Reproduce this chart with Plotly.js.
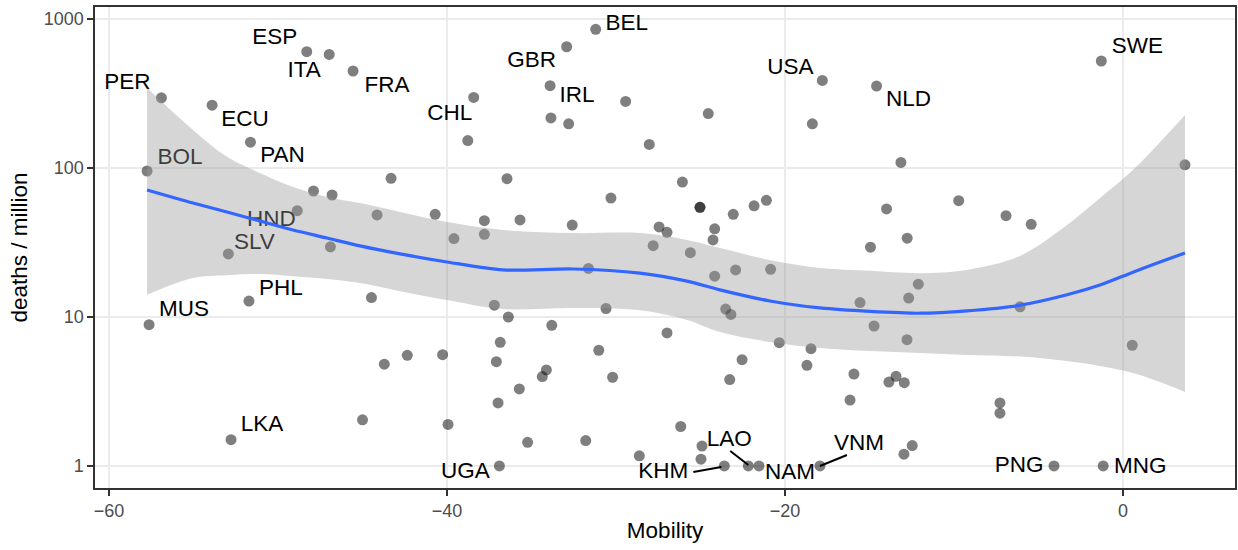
<!DOCTYPE html>
<html>
<head>
<meta charset="utf-8">
<script src="https://cdn.plot.ly/plotly-3.0.1.min.js"></script>
<style>
  html, body { margin: 0; padding: 0; background: #ffffff; }
  #chart { width: 1238px; height: 550px; }
</style>
</head>
<body>
<div id="chart"></div>
<script>
// Countries shown with their ISO code
const codes = ['PER','ESP','ITA','FRA','ECU','PAN','BOL','HND','SLV','PHL','MUS','LKA','UGA',
               'GBR','IRL','CHL','BEL','USA','NLD','SWE','PNG','MNG','KHM','LAO','NAM','VNM'];
const codeMobility = [-56.9,-48.3,-46.97,-45.56,-53.9,-51.63,-57.75,-48.86,-52.94,-51.72,-57.63,-52.78,-36.9,
                      -32.92,-33.9,-38.42,-31.2,-17.79,-14.58,-1.28,-4.08,-1.17,-23.59,-22.17,-21.54,-17.93];
const codeDeaths = [296,604,579,448,264,149,95.5,51.7,26.5,12.8,8.88,1.50,1.0,
                    652,357,298,853,387,355,523,1.0,1.0,1.0,1.0,1.0,1.0];

// Remaining countries
const otherMobility = [-46.9,-47.9,-46.8,-45.0,-29.43,-38.77,-33.85,-32.8,-43.31,-36.45,-30.3,-44.14,-40.7,
  -37.79,-35.68,-32.59,-39.59,-37.79,-24.54,-28.03,-18.38,-13.14,-26.07,-25.03,-25.03,-23.06,-21.83,-21.1,
  -27.45,-26.98,-24.16,-24.26,-27.8,-13.99,-12.77,-14.94,3.67,-9.72,-6.92,-5.43,-44.47,-37.2,-36.37,-33.8,
  -31.63,-30.59,-36.85,-37.08,-31.02,-30.2,-40.26,-42.35,-43.71,-34.12,-34.36,-35.72,-36.98,-39.94,-35.23,
  -31.79,-28.62,-25.6,-24.16,-22.92,-20.85,-23.51,-23.2,-26.98,-20.34,-18.46,-18.7,-22.54,-23.27,-15.56,
  -14.73,-12.78,-12.68,-12.11,-15.92,-13.43,-13.85,-12.94,-16.15,-26.17,-24.91,-24.97,-12.96,-12.47,-6.09,
  0.55,-7.28,-7.28];
const otherDeaths = [29.6,70.1,65.9,2.04,280,153,217,198,85.3,84.8,62.9,48.4,48.9,
  44.3,44.8,41.4,33.6,35.9,232,144,198,109,80.5,54.5,54.5,48.9,55.8,60.7,
  40.2,37.0,39.1,32.9,30.1,53.1,33.8,29.4,105,60.4,47.9,41.9,13.5,12.0,10.0,8.79,
  21.2,11.4,6.76,5.01,5.98,3.94,5.58,5.53,4.82,4.41,3.98,3.29,2.65,1.90,1.44,
  1.48,1.17,27.0,18.8,20.7,20.9,11.3,10.4,7.81,6.72,6.13,4.74,5.17,3.80,12.5,
  8.70,7.04,13.4,16.6,4.14,4.00,3.66,3.62,2.77,1.84,1.36,1.11,1.20,1.37,11.7,
  6.46,2.65,2.26];

// Loess fit with its 95% band
const fitMobility = [-57.75,-55.03,-53.02,-51.07,-49.11,-47.10,-45.15,-42.78,-40.0,-36.69,-32.54,-28.58,
  -25.80,-23.85,-20.89,-17.93,-14.97,-12.01,-9.23,-6.09,-3.31,-1.36,0.59,2.19,3.67];
const fitDeaths = [71.2,58.2,50.7,44.1,38.4,33.9,30.0,26.5,23.4,20.7,21.0,19.7,
  17.4,15.2,12.8,11.5,10.9,10.6,11.0,12.0,14.1,16.4,20.0,23.4,26.9];
const fitUpper = [344,180,119,92.5,74.5,63.9,58.2,50.7,43.4,38.4,36.6,36.6,
  32.9,29.0,24.1,21.3,20.4,19.7,20.7,25.7,41.4,62.9,97.0,149,227];
const fitLower = [14.1,18.3,19.1,19.4,18.8,18.0,16.9,14.9,13.0,11.3,11.5,11.1,
  9.55,7.93,6.80,6.19,5.91,5.73,5.56,5.43,5.07,4.69,4.21,3.66,3.14];

// Label placement: pixel shift of each label centre from its point
const labelShift = {
  PER:[-34,-14], ESP:[-32,-13], ITA:[-25,17], FRA:[34,15], ECU:[33,15], PAN:[32,14],
  BOL:[33,-13], HND:[-26,10], SLV:[26,-11], PHL:[32,-12], MUS:[35,-14], LKA:[31,-14],
  UGA:[-34,6], GBR:[-35,15], IRL:[27,11], CHL:[-24,17], BEL:[31,-5], USA:[-32,-12],
  NLD:[32,14], SWE:[36,-14], PNG:[-35,0], MNG:[37,1], KHM:[-61,6], LAO:[-19,-26],
  NAM:[31,7], VNM:[39,-22]
};
// Connector segments (pixel shifts from the point) for crowded labels
const leaders = {
  KHM:[[-31,6],[-3,1]],
  LAO:[[-18,-15],[0,-1]],
  VNM:[[27,-11],[0,0]]
};

const W = 1238, H = 550;
const margin = {l: 95, r: 3, t: 7, b: 62};
const xRange = [-60.83, 6.63];
const yRange = [-0.148, 3.081];
const plotW = W - margin.l - margin.r;
const plotH = H - margin.t - margin.b;
const pxPerX = plotW / (xRange[1] - xRange[0]);
const pxPerDecade = plotH / (yRange[1] - yRange[0]);

function shifted(x, y, dx, dy) {
  return [x + dx / pxPerX, Math.pow(10, Math.log10(y) - dy / pxPerDecade)];
}

const labX = [], labY = [];
codes.forEach((c, i) => {
  const p = shifted(codeMobility[i], codeDeaths[i], labelShift[c][0], labelShift[c][1]);
  labX.push(p[0]); labY.push(p[1]);
});

const segX = [], segY = [];
Object.keys(leaders).forEach(c => {
  const i = codes.indexOf(c);
  leaders[c].forEach(s => {
    const p = shifted(codeMobility[i], codeDeaths[i], s[0], s[1]);
    segX.push(p[0]); segY.push(p[1]);
  });
  segX.push(null); segY.push(null);
});

const font = '"Liberation Sans", Arial, Helvetica, sans-serif';

const traces = [
  {
    x: codeMobility.concat(otherMobility),
    y: codeDeaths.concat(otherDeaths),
    type: 'scatter', mode: 'markers',
    marker: {color: 'rgba(0,0,0,0.5)', size: 11, line: {width: 0}},
    hoverinfo: 'skip'
  },
  {
    x: labX, y: labY, text: codes,
    type: 'scatter', mode: 'text',
    textposition: 'middle center',
    textfont: {family: font, size: 22.5, color: '#000000'},
    hoverinfo: 'skip'
  },
  {
    x: segX, y: segY,
    type: 'scatter', mode: 'lines',
    line: {color: '#000000', width: 2},
    hoverinfo: 'skip'
  },
  // confidence band: lower edge, then upper edge filled down to it
  {
    x: fitMobility, y: fitLower,
    type: 'scatter', mode: 'lines',
    line: {width: 0, color: 'rgba(0,0,0,0)', shape: 'spline', smoothing: 1},
    hoverinfo: 'skip'
  },
  {
    x: fitMobility, y: fitUpper,
    type: 'scatter', mode: 'lines',
    fill: 'tonexty', fillcolor: 'rgba(153,153,153,0.4)',
    line: {width: 0, color: 'rgba(0,0,0,0)', shape: 'spline', smoothing: 1},
    hoverinfo: 'skip'
  },
  {
    x: fitMobility, y: fitDeaths,
    type: 'scatter', mode: 'lines',
    line: {color: '#3366FF', width: 3.2, shape: 'spline', smoothing: 0.8},
    hoverinfo: 'skip'
  }
];

const axisCommon = {
  ticks: 'outside', ticklen: 6, tickwidth: 1.5, tickcolor: '#333333',
  tickfont: {family: font, size: 18, color: '#4D4D4D'},
  showgrid: true, gridcolor: '#EBEBEB', gridwidth: 1.3,
  zeroline: false, showline: true, linecolor: '#333333', linewidth: 1.6, mirror: true,
  automargin: false
};

const layout = {
  width: W, height: H,
  margin: margin,
  paper_bgcolor: '#FFFFFF', plot_bgcolor: '#FFFFFF',
  showlegend: false,
  font: {family: font},
  xaxis: Object.assign({}, axisCommon, {
    range: xRange,
    tickvals: [-60, -40, -20, 0],
    title: {text: 'Mobility', font: {family: font, size: 22.5, color: '#000000'}, standoff: 2}
  }),
  yaxis: Object.assign({}, axisCommon, {
    type: 'log', range: yRange,
    tickvals: [1, 10, 100, 1000], ticktext: ['1', '10', '100', '1000'],
    title: {text: 'deaths / million', font: {family: font, size: 22.5, color: '#000000'}, standoff: 10}
  })
};

Plotly.newPlot('chart', traces, layout, {staticPlot: true, displayModeBar: false});
</script>
</body>
</html>
